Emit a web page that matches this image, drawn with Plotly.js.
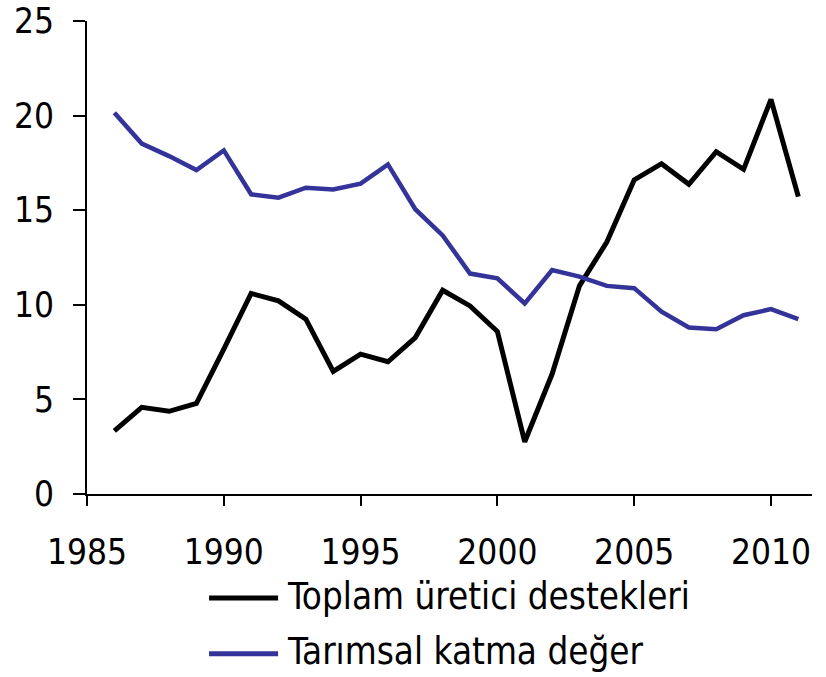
<!DOCTYPE html>
<html>
<head>
<meta charset="utf-8">
<script src="https://cdn.plot.ly/plotly-3.0.1.min.js"></script>
<style>body{margin:0;padding:0;background:#fff;}#chart{width:826px;height:677px;}</style>
</head>
<body>
<div id="chart"></div>
<script>
const years = [1986,1987,1988,1989,1990,1991,1992,1993,1994,1995,1996,1997,1998,1999,2000,2001,2002,2003,2004,2005,2006,2007,2008,2009,2010,2011];
const toplamUretici = [3.34,4.58,4.37,4.79,7.66,10.60,10.21,9.24,6.48,7.39,6.99,8.27,10.77,9.94,8.59,2.76,6.34,11.0,13.32,16.60,17.46,16.37,18.09,17.16,20.86,15.72];
const tarimsalKatma = [20.15,18.52,17.86,17.12,18.16,15.84,15.66,16.19,16.10,16.40,17.42,15.05,13.67,11.65,11.40,10.07,11.84,11.49,11.0,10.88,9.64,8.80,8.71,9.45,9.77,9.24];
const seriesNames = ["Toplam üretici destekleri", "Tarımsal katma değer"];
const xTicks = [1985,1990,1995,2000,2005,2010];
const yTicks = [0,5,10,15,20,25];

const FONT = "'DejaVu Sans Condensed', 'DejaVu Sans', sans-serif";
const colors = ["#000000", "#333399"];

const traces = [
  {x: years, y: toplamUretici, name: seriesNames[0], type: "scatter", mode: "lines",
   line: {color: colors[0], width: 5}, showlegend: false},
  {x: years, y: tarimsalKatma, name: seriesNames[1], type: "scatter", mode: "lines",
   line: {color: colors[1], width: 4.5}, showlegend: false}
];

// custom legend (long line samples like the reference)
const legendY = [-0.220, -0.338];
const shapes = [];
const annotations = [];
seriesNames.forEach((n, i) => {
  shapes.push({type: "line", xref: "paper", yref: "paper",
    x0: (209-87)/724.7, x1: (278-87)/724.7, y0: legendY[i], y1: legendY[i],
    line: {color: colors[i], width: 5}});
  annotations.push({xref: "paper", yref: "paper", x: (285-87)/724.7, y: legendY[i] + 0.004,
    xanchor: "left", yanchor: "middle", showarrow: false, text: n,
    font: {family: FONT, size: 36.5, color: "#000"}});
});

const layout = {
  width: 826, height: 677,
  margin: {l: 87, r: 14.3, t: 21, b: 183},
  paper_bgcolor: "#fff", plot_bgcolor: "#fff",
  font: {family: FONT, size: 35, color: "#000"},
  xaxis: {range: [1985, 2011.5], tickvals: xTicks, ticktext: xTicks.map(String),
    showgrid: false, zeroline: false, showline: true, linecolor: "#000", linewidth: 2,
    ticks: "outside", ticklen: 10, tickwidth: 2, tickcolor: "#000", ticklabelstandoff: 16},
  yaxis: {range: [0, 25], tickvals: yTicks, ticktext: yTicks.map(String),
    showgrid: false, zeroline: false, showline: true, linecolor: "#000", linewidth: 2,
    ticks: "outside", ticklen: 12, tickwidth: 2, tickcolor: "#000", ticklabelstandoff: 12},
  shapes: shapes,
  annotations: annotations,
  showlegend: false
};

Plotly.newPlot("chart", traces, layout, {displayModeBar: false, staticPlot: true});
</script>
</body>
</html>
